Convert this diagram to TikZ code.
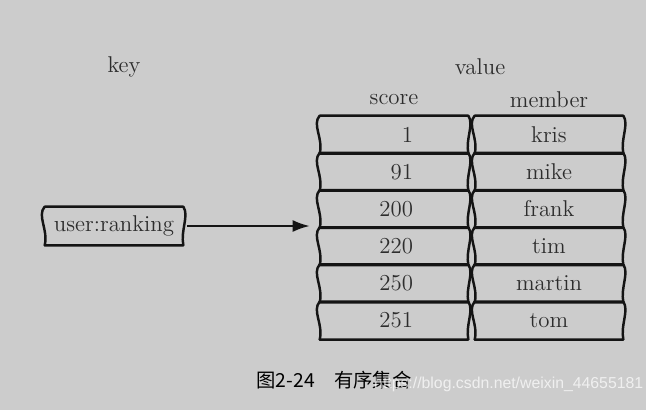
\documentclass[tikz,border=0pt]{standalone}
\usepackage{fontspec}
\newfontfamily\cjk{Noto Sans CJK SC}
\newfontfamily\wmfont{Liberation Sans}
\usetikzlibrary{arrows.meta,positioning}
\definecolor{paper}{RGB}{204,204,204}
\definecolor{ink}{RGB}{20,20,20}
\definecolor{txt}{RGB}{45,45,45}

\begin{document}
\begin{tikzpicture}[
		x=0.02cm, y=-0.02cm,
		every node/.append style={text=txt,font=\fontsize{13}{15}\selectfont},
		cell/.style={minimum width=2.96cm,minimum height=0.744cm,inner sep=0pt},
		rim/.style={draw=ink,line width=1.4pt,line cap=round}
	]
	\fill[paper] (0,0) rectangle (646,410);
	\useasboundingbox (0,0) rectangle (646,410);
	% headings
	\node (key) at (124,67) {key};
	\node (value) at (480,67) {value};
	\node (score) at (394,100) {score};
	\node (member) at (549,100) {member};
	% the key box and the rows of the sorted set
	\node[cell,minimum width=2.76cm,minimum height=0.76cm] (ukey) at (114,226) {user:ranking};
	\foreach \sc/\mb [count=\i] in {1/kris,91/mike,200/frank,220/tim,250/martin,251/tom} {
		\node[cell,text width=0.76cm,align=right] (s\i) at (394,{97.4+37.2*\i}) {\sc};
		\node[cell] (m\i) at (549,{97.4+37.2*\i}) {\mb};
	}
	\foreach \c in {ukey,s1,s2,s3,s4,s5,s6,m1,m2,m3,m4,m5,m6}
		\draw[rim] (\c.north west) -- (\c.north east) (\c.south west) -- (\c.south east)
			(\c.north west) .. controls +(-8,9) and +(4,-15) .. (\c.south west)
			(\c.north east) .. controls +(6,9) and +(-3,-15) .. (\c.south east);
	\draw[ink,line width=1.1pt,-{Latex[length=3.4mm,width=2.4mm]},shorten <=0.08cm,shorten >=0.2cm] (ukey.east) -- (ukey.east -| s3.west);
	% caption
	\node[font=\cjk\fontsize{11}{13}\selectfont,text=black] (cap) at (334,380) {图2-24\hspace{1em}有序集合};
	\node[font=\wmfont\fontsize{9}{11}\selectfont,text=white,text opacity=0.7,anchor=west] (mark) at (368,384) {https://blog.csdn.net/weixin\_44655181};
\end{tikzpicture}
\end{document}
